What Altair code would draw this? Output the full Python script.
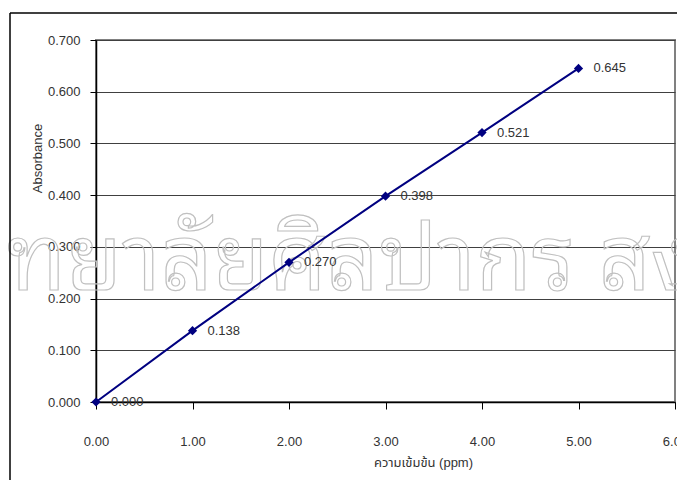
import altair as alt
import pandas as pd

conc = [0, 1, 2, 3, 4, 5]
absorbance = [0.000, 0.138, 0.270, 0.398, 0.521, 0.645]
point_labels = ["0.000", "0.138", "0.270", "0.398", "0.521", "0.645"]
x_ticks = [0, 1, 2, 3, 4, 5, 6]
y_ticks = [0.0, 0.1, 0.2, 0.3, 0.4, 0.5, 0.6, 0.7]
x_title = "ความเข้มข้น (ppm)"
y_title = "Absorbance"
watermark = "มหาวิทยาลัยศิลปากร สงวนลิขสิทธิ์"

df = pd.DataFrame({"conc": conc, "abs": absorbance, "label": point_labels})
one = pd.DataFrame({"t": [watermark]})

FONT = "Liberation Sans, Arial, Noto Sans Thai, sans-serif"
NAVY = "#000080"

x_enc = alt.X(
    "conc:Q",
    scale=alt.Scale(domain=[0, 6], nice=False),
    axis=alt.Axis(
        values=x_ticks, format=".2f", title=x_title, grid=False, labelFlush=False,
        domainColor="#000000", domainWidth=1.5, tickColor="#000000", tickSize=7,
        labelPadding=26, labelFontSize=13, labelColor="#333333", labelFont=FONT,
        titleFontSize=13, titleFontWeight="normal", titleColor="#333333", titleFont=FONT,
        titleX=327, titleY=54, titleAnchor="middle", titleAlign="center", titleBaseline="top",
    ),
)
y_enc = alt.Y(
    "abs:Q",
    scale=alt.Scale(domain=[0, 0.7], nice=False),
    axis=alt.Axis(
        values=y_ticks, format=".3f", title=y_title, grid=True, labelFlush=False,
        gridColor="#404040", gridWidth=1,
        domainColor="#000000", domainWidth=1.5, tickColor="#000000", tickSize=6,
        labelPadding=10, labelFontSize=13, labelColor="#333333", labelFont=FONT,
        titleFontSize=13, titleFontWeight="normal", titleColor="#333333", titleFont=FONT,
        titleX=-59, titleY=118, titleAngle=-90, titleAlign="center", titleBaseline="middle",
        titleAnchor="middle",
    ),
)

wm = alt.Chart(one).mark_text(
    fontSize=91, font="Noto Sans Thai Looped, Noto Serif Thai, Loma, Garuda, Norasi, Noto Sans Thai, sans-serif",
    align="left", baseline="alphabetic", fillOpacity=0, stroke="#c0c0c0", strokeWidth=1.2,
).encode(x=alt.value(-288), y=alt.value(250), text="t:N")

border_left = alt.Chart(one).mark_rule(color="#000000", strokeWidth=1.5).encode(
    x=alt.value(-86), y=alt.value(-27), y2=alt.value(520)
)
border_top = alt.Chart(one).mark_rule(color="#000000", strokeWidth=1.5).encode(
    x=alt.value(-86), x2=alt.value(700), y=alt.value(-27)
)

line = alt.Chart(df).mark_line(color=NAVY, strokeWidth=2).encode(x=x_enc, y=y_enc)
pts = alt.Chart(df).mark_point(
    shape="diamond", filled=True, color=NAVY, size=85, opacity=1
).encode(x="conc:Q", y="abs:Q")
txt = alt.Chart(df).mark_text(
    align="left", baseline="middle", dx=15, fontSize=13, color="#333333", font=FONT
).encode(x="conc:Q", y="abs:Q", text="label:N")

chart = alt.layer(wm, line, pts, txt, border_left, border_top).properties(
    width=579, height=362,
    autosize=alt.AutoSizeParams(type="none"),
    padding={"left": 88, "top": 32, "right": 2, "bottom": 78},
    background="#ffffff",
).configure_view(stroke="#808080", strokeWidth=2)

chart.save("out.html", embed_options={"renderer": "svg", "actions": False})
